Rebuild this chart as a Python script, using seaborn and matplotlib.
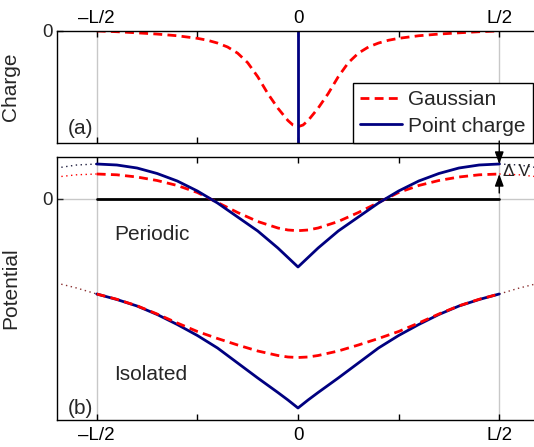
import matplotlib
matplotlib.use("Agg")
import matplotlib.pyplot as plt
import seaborn as sns
from matplotlib.lines import Line2D

# ---------------- data ----------------
x_ticks = [-1.0, -0.5, 0.0, 0.5, 1.0]
x_tick_labels = ["\u2013L/2", "", "0", "", "L/2"]

x_charge = [-1.0, -0.9, -0.8, -0.7, -0.6, -0.5, -0.45, -0.4, -0.35, -0.3, -0.25,
            -0.2, -0.15, -0.1, -0.05, -0.025, 0.0, 0.025, 0.05, 0.1, 0.15, 0.2,
            0.25, 0.3, 0.35, 0.4, 0.45, 0.5, 0.6, 0.7, 0.8, 0.9, 1.0]
gauss_charge = [-0.002, -0.009, -0.019, -0.030, -0.045, -0.068, -0.085, -0.11, -0.145,
                -0.20, -0.285, -0.41, -0.56, -0.69, -0.80, -0.84, -0.855, -0.84, -0.80,
                -0.69, -0.56, -0.41, -0.285, -0.20, -0.145, -0.11, -0.085, -0.068,
                -0.045, -0.030, -0.019, -0.009, -0.002]
point_charge_x = [0.0, 0.0]
point_charge_y = [0.0, -1.0]

x_pot = [-1.0, -0.9, -0.8, -0.7, -0.6, -0.5, -0.4, -0.3, -0.2, -0.1, -0.05, 0.0,
         0.05, 0.1, 0.2, 0.3, 0.4, 0.5, 0.6, 0.7, 0.8, 0.9, 1.0]
periodic_point = [0.35, 0.34, 0.31, 0.255, 0.18, 0.08, -0.04, -0.18, -0.32, -0.49, -0.585,
                  -0.68, -0.585, -0.49, -0.32, -0.18, -0.04, 0.08, 0.18, 0.255, 0.31, 0.34, 0.35]
periodic_gauss = [0.25, 0.242, 0.22, 0.185, 0.135, 0.065, -0.035, -0.135, -0.225, -0.29, -0.31,
                  -0.317, -0.31, -0.29, -0.225, -0.135, -0.035, 0.065, 0.135, 0.185, 0.22, 0.242, 0.25]
isolated_point = [-0.95, -1.005, -1.07, -1.155, -1.255, -1.365, -1.49, -1.64, -1.79, -1.935, -2.01,
                  -2.09, -2.01, -1.935, -1.79, -1.64, -1.49, -1.365, -1.255, -1.155, -1.07, -1.005, -0.95]
isolated_gauss = [-0.95, -1.003, -1.068, -1.15, -1.24, -1.325, -1.395, -1.46, -1.52, -1.565, -1.58,
                  -1.585, -1.58, -1.565, -1.52, -1.46, -1.395, -1.325, -1.24, -1.15, -1.068, -1.003, -0.95]

x_ext_left = [-1.2, -1.1, -1.0]
x_ext_right = [1.0, 1.1, 1.2]
periodic_point_ext_left = [0.31, 0.34, 0.35]
periodic_gauss_ext_left = [0.22, 0.242, 0.25]
isolated_ext_left = [-0.84, -0.89, -0.95]
periodic_point_ext_right = [0.35, 0.34, 0.31]
periodic_gauss_ext_right = [0.25, 0.242, 0.22]
isolated_ext_right = [-0.95, -0.89, -0.84]

zero_x = [-1.0, 1.0]
zero_y = [0.0, 0.0]

# ---------------- style ----------------
sns.set_theme(style="white")
plt.rcParams["font.family"] = ["Liberation Sans", "DejaVu Sans"]
plt.rcParams["axes.edgecolor"] = "black"
plt.rcParams["axes.linewidth"] = 1.0

RED = "#ff0000"
NAVY = "#000080"
GRID = "#c8c8c8"
FS = 15
TFS = 13.5
dash = (0, (3.2, 1.9))

fig = plt.figure(figsize=(5.34, 4.47), dpi=100)
W, H = 534.0, 447.0
left = 56.5 / W
width = 483.0 / W
ax1 = fig.add_axes([left, (H - 143.0) / H, width, (143.0 - 30.7) / H])
ax2 = fig.add_axes([left, (H - 420.0) / H, width, (420.0 - 157.3) / H])

# ---------------- (a) charge ----------------
for xv in (-1.0, 1.0):
    ax1.axvline(xv, color=GRID, lw=1.0, zorder=0)
sns.lineplot(x=x_charge, y=gauss_charge, ax=ax1, color=RED, lw=2.0,
             linestyle=dash, estimator=None, sort=False)
sns.lineplot(x=point_charge_x, y=point_charge_y, ax=ax1, color=NAVY, lw=2.0,
             estimator=None, sort=False)
ax1.set_xlim(-1.2, 1.2)
ax1.set_ylim(-1.0, 0.0)
ax1.set_yticks([0.0])
ax1.set_yticklabels(["0"], fontsize=TFS)
ax1.set_xticks(x_ticks)
ax1.set_xticklabels(x_tick_labels, fontsize=TFS)
ax1.tick_params(axis="x", direction="in", top=True, bottom=True, labeltop=True,
                labelbottom=False, length=4, width=1, pad=3, colors="black")
ax1.tick_params(axis="y", direction="in", left=True, length=4, width=1, pad=3)
ax1.set_ylabel("Charge", fontsize=FS)
ax1.yaxis.set_label_coords(-0.076, 0.5)
ax1.text(0.023, 0.13, "(a)", transform=ax1.transAxes, fontsize=FS, va="center", ha="left")
handles = [Line2D([], [], color=RED, lw=2.0, linestyle=dash),
           Line2D([], [], color=NAVY, lw=2.0)]
leg = ax1.legend(handles, ["Gaussian", "Point charge"], loc="lower right",
                 bbox_to_anchor=(0.9865, 0.0), fontsize=FS, frameon=True,
                 fancybox=False, framealpha=1.0, edgecolor="black",
                 handlelength=2.0, handletextpad=0.3, borderpad=0.35,
                 labelspacing=0.35, borderaxespad=0.0)
leg.get_frame().set_linewidth(1.0)

# ---------------- (b) potential ----------------
for xv in (-1.0, 1.0):
    ax2.axvline(xv, color=GRID, lw=1.0, zorder=0)
ax2.axhline(0.0, color=GRID, lw=1.0, zorder=0)
sns.lineplot(x=zero_x, y=zero_y, ax=ax2, color="black", lw=2.0, estimator=None)

for xs, ys, c in [(x_ext_left, periodic_point_ext_left, "#202040"),
                  (x_ext_left, periodic_gauss_ext_left, RED),
                  (x_ext_right, periodic_point_ext_right, "#202040"),
                  (x_ext_right, periodic_gauss_ext_right, RED),
                  (x_ext_left, isolated_ext_left, "#8a3030"),
                  (x_ext_right, isolated_ext_right, "#8a3030")]:
    sns.lineplot(x=xs, y=ys, ax=ax2, color=c, lw=1.0, linestyle=(0, (1, 2.5)),
                 estimator=None, sort=False)

sns.lineplot(x=x_pot, y=periodic_gauss, ax=ax2, color=RED, lw=2.0, linestyle=dash,
             estimator=None, sort=False)
sns.lineplot(x=x_pot, y=periodic_point, ax=ax2, color=NAVY, lw=2.0,
             estimator=None, sort=False)
sns.lineplot(x=x_pot, y=isolated_point, ax=ax2, color=NAVY, lw=2.0,
             estimator=None, sort=False)
sns.lineplot(x=x_pot, y=isolated_gauss, ax=ax2, color=RED, lw=2.0, linestyle=dash,
             estimator=None, sort=False)

ax2.set_xlim(-1.2, 1.2)
ax2.set_ylim(-2.21, 0.417)
ax2.set_yticks([0.0])
ax2.set_yticklabels(["0"], fontsize=TFS)
ax2.set_xticks(x_ticks)
ax2.set_xticklabels(x_tick_labels, fontsize=TFS)
ax2.tick_params(axis="x", direction="in", top=True, bottom=True, labeltop=False,
                labelbottom=True, length=4, width=1, pad=5, colors="black")
ax2.tick_params(axis="y", direction="in", left=True, length=4, width=1, pad=3)
ax2.set_ylabel("Potential", fontsize=FS)
ax2.yaxis.set_label_coords(-0.076, 0.5)
ax2.text(-0.725, -0.36, "Periodic", fontsize=FS, va="center", ha="center")
ax2.text(-0.733, -1.76, "Isolated", fontsize=FS, va="center", ha="center")
ax2.text(0.023, 0.045, "(b)", transform=ax2.transAxes, fontsize=FS, va="center", ha="left")

# Delta V annotation
arrow_kw = dict(arrowstyle="-|>,head_length=0.6,head_width=0.22", color="black",
                lw=1.0, shrinkA=0, shrinkB=0)
ax2.annotate("", xy=(1.0, periodic_point[-1]), xytext=(1.0, 0.58),
             arrowprops=arrow_kw, annotation_clip=False)
ax2.annotate("", xy=(1.0, periodic_gauss[-1]), xytext=(1.0, 0.06),
             arrowprops=arrow_kw, annotation_clip=False)
ax2.text(1.018, 0.275, "\u0394 V", fontsize=12.5, va="center", ha="left", clip_on=False)

fig.savefig("out.png", dpi=100)
